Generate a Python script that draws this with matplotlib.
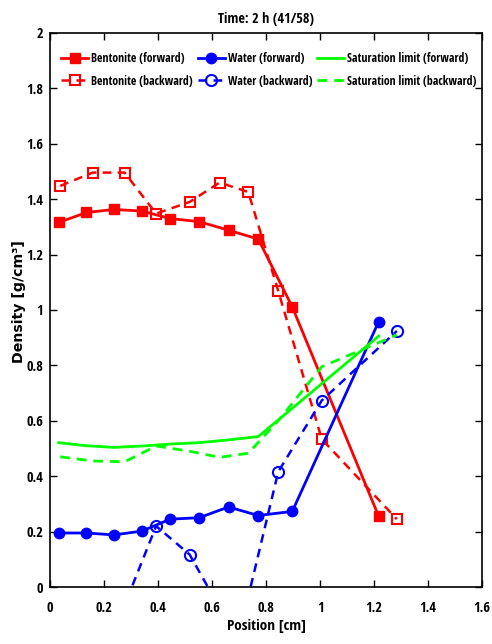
import numpy as np
import matplotlib
matplotlib.use('Agg')
import matplotlib.pyplot as plt
from matplotlib import font_manager
from matplotlib.font_manager import FontProperties

# forward / backward grid positions [cm]
x_fwd = [0.032, 0.135, 0.237, 0.341, 0.445, 0.552, 0.661, 0.771, 0.897, 1.217]
x_bwd = [0.038, 0.158, 0.276, 0.393, 0.517, 0.628, 0.734, 0.845, 1.006, 1.284]

bent_fwd = [1.316, 1.352, 1.363, 1.357, 1.330, 1.319, 1.288, 1.256, 1.011, 0.255]
bent_bwd = [1.448, 1.496, 1.496, 1.348, 1.390, 1.460, 1.426, 1.069, 0.534, 0.245]
water_fwd = [0.195, 0.195, 0.188, 0.202, 0.245, 0.250, 0.289, 0.258, 0.273, 0.958]
water_bwd = [-0.15, -0.10, -0.066, 0.220, 0.117, -0.075, -0.035, 0.416, 0.673, 0.924]
sat_fwd = [0.521, 0.510, 0.504, 0.509, 0.516, 0.521, 0.531, 0.543, 0.645, 0.906]
sat_bwd = [0.470, 0.455, 0.452, 0.509, 0.490, 0.468, 0.483, 0.600, 0.795, 0.910]

red, blue, green = '#ff0000', '#0000ff', '#00ff00'
dash = (3.5, 2.5)

fig = plt.figure(figsize=(4.92, 6.44), dpi=100)
ax = fig.add_axes([0.1016, 0.0885, 0.8784, 0.8603])
fig.canvas.draw()
rend = fig.canvas.get_renderer()


def width_px(s, fp, size=10):
    p = fp.copy()
    p.set_size(size)
    t = fig.text(0, 0, s, fontproperties=p)
    w = t.get_window_extent(rend).width
    t.remove()
    return w


# narrowest bold face among the usual sans families (reference text is condensed)
names = ['Roboto', 'Liberation Sans', 'Noto Sans', 'Open Sans', 'Lato', 'Inter', 'DejaVu Sans']
cands = []
for f in font_manager.fontManager.ttflist:
    w = f.weight if isinstance(f.weight, int) else (700 if 'bold' in str(f.weight).lower() else 400)
    if w < 600 or w > 750 or f.style != 'normal':
        continue
    if not any(f.name == n or f.name.startswith(n + ' ') for n in names):
        continue
    tag = (f.name + ' ' + f.fname).lower()
    if 'mono' in tag or 'serif' in tag or 'cjk' in tag or 'display' in tag:
        continue
    cands.append(f.fname)
best = None
for fn in cands:
    try:
        fp = FontProperties(fname=fn)
        w = width_px('Saturation limit (backward)', fp)
    except Exception:
        continue
    if best is None or w < best[0]:
        best = (w, fp)
font = best[1] if best else FontProperties(family='DejaVu Sans', weight='bold')


def fp_size(target, s, cap=None, base=None):
    base = base or font
    size = 10 * target / width_px(s, base)
    if cap:
        size = min(size, cap)
    p = base.copy()
    p.set_size(size)
    return p


ax.plot(x_fwd, bent_fwd, '-s', color=red, lw=2, ms=7, mfc=red, label='Bentonite (forward)')
ax.plot(x_bwd, bent_bwd, '--s', color=red, lw=1.8, ms=7, mfc='none', mew=1.5,
        dashes=dash, label='Bentonite (backward)')
ax.plot(x_fwd, water_fwd, '-o', color=blue, lw=2, ms=7.5, mfc=blue, label='Water (forward)')
ax.plot(x_bwd, water_bwd, '--o', color=blue, lw=1.8, ms=8, mfc='none', mew=1.5,
        dashes=dash, label='Water (backward)')
ax.plot(x_fwd, sat_fwd, '-', color=green, lw=2, label='Saturation limit (forward)')
ax.plot(x_bwd, sat_bwd, '--', color=green, lw=2, dashes=dash, label='Saturation limit (backward)')

ax.set_xlim(0, 1.6)
ax.set_ylim(0, 2)
xt = np.arange(0, 1.61, 0.2)
yt = np.arange(0, 2.01, 0.2)
ax.set_xticks(xt)
ax.set_yticks(yt)
ax.set_xticklabels(['%g' % round(v, 1) for v in xt])
ax.set_yticklabels(['%g' % round(v, 1) for v in yt])
tick_fp = fp_size(17, '0.8', cap=10.5)
for lab in ax.get_xticklabels() + ax.get_yticklabels():
    lab.set_fontproperties(tick_fp)
ax.tick_params(axis='x', direction='in', top=True, length=5, width=1, pad=10)
ax.tick_params(axis='y', direction='in', right=True, length=5, width=1, pad=5)
for s in ax.spines.values():
    s.set_linewidth(1.2)

ax.set_xlabel('Position [cm]', fontproperties=fp_size(80, 'Position [cm]', cap=11), labelpad=3)
ylab_fp = fp_size(123, 'Density [g/cm³]', cap=11,
                  base=FontProperties(family='DejaVu Sans', weight='bold'))
ax.set_ylabel('Density [g/cm³]', fontproperties=ylab_fp, va='center')
ax.yaxis.set_label_coords(-0.072, 0.515)
ax.set_title('Time: 2 h (41/58)', fontproperties=fp_size(96, 'Time: 2 h (41/58)', cap=11), pad=7)

leg_fp = fp_size(130, 'Saturation limit (backward)', cap=10.5)
fs_px = leg_fp.get_size() * 100 / 72
ax.legend(loc='upper left', bbox_to_anchor=(61 / 492, 1 - 52 / 644), bbox_transform=fig.transFigure,
          ncol=3, frameon=False, prop=leg_fp, borderpad=0, borderaxespad=0,
          handlelength=27 / fs_px, handletextpad=3 / fs_px, columnspacing=5 / fs_px,
          labelspacing=0.8)

fig.savefig('out.png', dpi=100)
